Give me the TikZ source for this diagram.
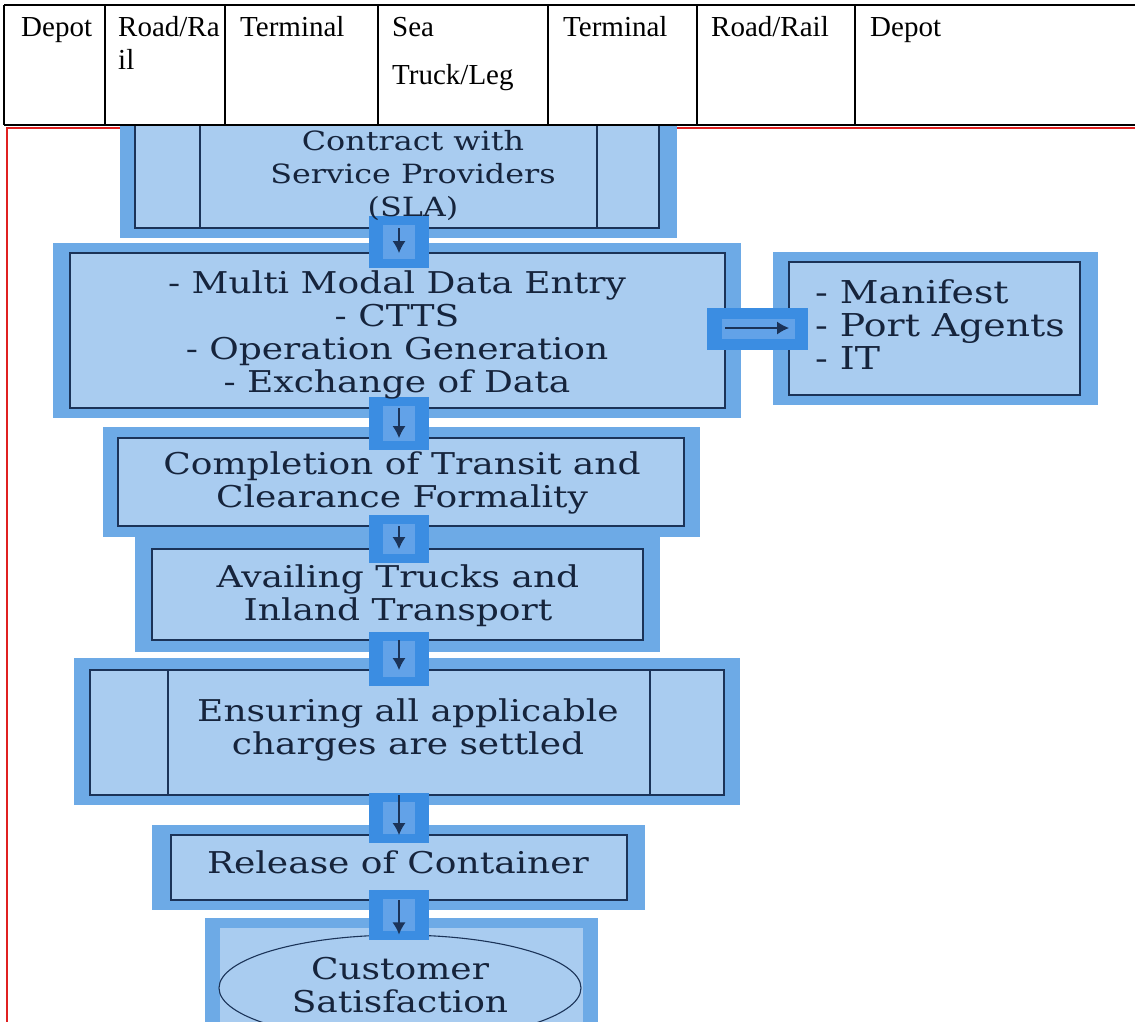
\documentclass[tikz,border=0pt]{standalone}
\usepackage{fontspec}
\setmainfont{Liberation Serif}
\newfontfamily\flowfont[FakeStretch=1.2]{DejaVu Serif}
\usetikzlibrary{shapes.geometric,arrows.meta}
\definecolor{frameblue}{HTML}{6DAAE6}
\definecolor{boxfill}{HTML}{A9CCF0}
\definecolor{navy}{HTML}{1B3358}
\definecolor{hlring}{HTML}{3B8DE2}
\definecolor{hlcore}{HTML}{62A2E8}
\definecolor{inktext}{HTML}{16243C}
\definecolor{canvasred}{HTML}{E02020}

\begin{document}
\begin{tikzpicture}[x=1pt,y=-1pt,
  frame/.style={fill=frameblue,draw=none},
  stepbox/.style={draw=navy,fill=boxfill,line width=1.3pt,inner sep=0pt,outer sep=0pt},
  fillbox/.style={fill=boxfill,draw=none,inner sep=0pt,outer sep=0pt},
  txt/.style={font=\flowfont\fontsize{30}{33}\selectfont,text=inktext,align=center,inner sep=0pt},
  smalltxt/.style={txt,font=\flowfont\fontsize{26.5}{33}\selectfont},
  bigtxt/.style={txt,font=\flowfont\fontsize{31.5}{33}\selectfont},
  hdr/.style={font=\fontsize{29}{33}\selectfont,anchor=base west,inner sep=0pt},
  arr/.style={draw=navy,line width=1.2pt,-{Latex[length=12pt,width=13pt]}},
  grid/.style={line width=1.8pt,draw=black}
]
\useasboundingbox (0,0) rectangle (1135,1021);
\clip (0,0) rectangle (1135,1021);

% canvas outline
\draw[canvasred,line width=1.5pt] (1135,128) -- (7,128) -- (7,1025);

% outer frames
\fill[frameblue] (120,100) rectangle (677,238);
\fill[frameblue] (53,243) rectangle (741,418);
\fill[frameblue] (773,252) rectangle (1098,405);
\fill[frameblue] (103,427) rectangle (700,537);
\fill[frameblue] (135,537) rectangle (660,652);
\fill[frameblue] (74,658) rectangle (740,805);
\fill[frameblue] (152,825) rectangle (645,910);
\fill[frameblue] (205,918) rectangle (598,1030);

% process boxes
\node[stepbox,minimum width=524,minimum height=128] (b1) at (397,164) {};
\draw[navy,line width=1.3pt] (b1.north west) ++(65,0) -- ++(0,128);
\draw[navy,line width=1.3pt] (b1.north east) ++(-62,0) -- ++(0,128);
\node[stepbox,minimum width=655,minimum height=155] (b2) at (397.5,330.5) {};
\node[stepbox,minimum width=291,minimum height=133] (b3) at (934.5,328.5) {};
\node[stepbox,minimum width=566,minimum height=88] (b4) at (401,482) {};
\node[stepbox,minimum width=491,minimum height=91] (b5) at (397.5,594.5) {};
\node[stepbox,minimum width=634,minimum height=125] (b6) at (407,732.5) {};
\draw[navy,line width=1.3pt] (b6.north west) ++(78,0) -- ++(0,125);
\draw[navy,line width=1.3pt] (b6.north east) ++(-74,0) -- ++(0,125);
\node[stepbox,minimum width=456,minimum height=65] (b7) at (399,867.5) {};
\node[fillbox,minimum width=363,minimum height=110] (b8) at (401.5,983) {};
\node[ellipse,draw=navy,line width=1.1pt,fill=boxfill,minimum width=362,minimum height=106,inner sep=0pt] (b9) at (400,988) {};

% connector highlights
\coordinate (spine) at (399,0);
\foreach \ya/\yb in {216/268,397/450,515/563,632/686,793/843,890/940}{
  \fill[hlring] (369,\ya) rectangle (429,\yb);
  \fill[hlcore] (383,\ya+9) rectangle (415,\yb-9);
}
\fill[hlring] (707,308) rectangle (808,350);
\fill[hlcore] (722,319) rectangle (795,339);

% connectors
\draw[arr] (b1.south -| spine) -- (b2.north -| spine);
\draw[arr] (b2.south -| spine) -- (b4.north -| spine);
\draw[arr] (b4.south -| spine) -- (b5.north -| spine);
\draw[arr] (b5.south -| spine) -- (b6.north -| spine);
\draw[arr] (b6.south -| spine) -- (b7.north -| spine);
\draw[arr] (b7.south -| spine) -- (b9.north -| spine);
\draw[arr] (b2.east |- 0,328) -- (b3.west |- 0,328);

% step labels
\node[smalltxt] (t1) at (413,175) {Contract with\\Service Providers\\(SLA)};
\node[txt] (t2) at (397,335) {- Multi Modal Data Entry\\- CTTS\\- Operation Generation\\- Exchange of Data};
\node[bigtxt,align=left,anchor=west] (t3) at (815,325) {- Manifest\\- Port Agents\\- IT};
\node[txt] (t4) at (402,483) {Completion of Transit and\\Clearance Formality};
\node[txt] (t5) at (398,596) {Availing Trucks and\\Inland Transport};
\node[txt] (t6) at (408,730) {Ensuring all applicable\\charges are settled};
\node[txt] (t7) at (398,862) {Release of Container};
\node[txt] (t8) at (400,985) {Customer\\Satisfaction};

% header table
\fill[white] (0,0) rectangle (1135,126);
\draw[grid] (4,5) -- (1135,5);
\draw[grid] (4,125) -- (1135,125);
\foreach \xx in {4,105,225,378,548,697,855}{
  \draw[grid] (\xx,5) -- (\xx,125);
}
\node[hdr] (h1) at (21,36) {Depot};
\node[hdr] (h2) at (118,36) {Road/Ra};
\node[hdr] (h3) at (118,69) {il};
\node[hdr] (h4) at (240,36) {Terminal};
\node[hdr] (h5) at (392,36) {Sea};
\node[hdr] (h6) at (392,84) {Truck/Leg};
\node[hdr] (h7) at (563,36) {Terminal};
\node[hdr] (h8) at (711,36) {Road/Rail};
\node[hdr] (h9) at (870,36) {Depot};
\end{tikzpicture}
\end{document}
